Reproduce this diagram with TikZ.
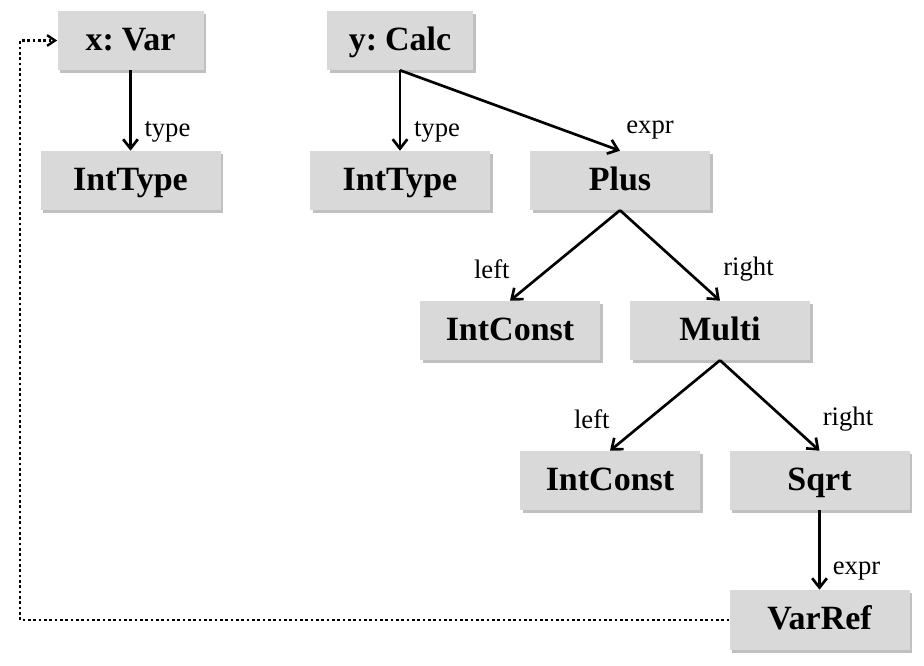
\documentclass[tikz,border=0pt]{standalone}
\usepackage{fontspec}
\setmainfont{Liberation Serif}
\newfontfamily\objfamily{Liberation Serif}[WordSpace=0.6]
\usetikzlibrary{arrows.meta,shadows}
\definecolor{boxgray}{RGB}{217,217,217}
\begin{document}
\begin{tikzpicture}[x=0.75pt,y=-0.75pt,
    obj/.style={fill=boxgray,inner sep=0pt,minimum width=135pt,minimum height=44.25pt,
        text height=19pt,text depth=4.7pt,
        font=\objfamily\fontsize{25.5}{30}\selectfont\bfseries,
        drop shadow={shadow xshift=2pt,shadow yshift=-2pt,fill=black!45,opacity=0.55}},
    rel/.style={line width=2pt,-{Straight Barb[length=7pt,width=11pt,line width=2pt]}},
    ref/.style={line width=2pt,dotted,-{Straight Barb[length=6pt,width=8pt,line width=1.8pt]}},
    lbl/.style={inner sep=1pt,font=\fontsize{20}{24}\selectfont}]
    \useasboundingbox (0,0) rectangle (924,666);
    % objects
    \node[obj,minimum width=109.5pt] (xvar) at (130.5,40.5) {x: Var};
    \node[obj] (it1) at (130.5,180.5) {IntType};
    \node[obj,minimum width=109.5pt] (ycalc) at (400,40.5) {y: Calc};
    \node[obj] (it2) at (400,180.5) {IntType};
    \node[obj] (plus) at (620,180.5) {Plus};
    \node[obj] (ic1) at (510,330.5) {IntConst};
    \node[obj] (multi) at (720,330.5) {Multi};
    \node[obj] (ic2) at (610,480.5) {IntConst};
    \node[obj] (sqrt) at (819.5,480.5) {Sqrt};
    \node[obj,minimum height=45pt] (varref) at (819.5,620) {VarRef};
    \coordinate (turn) at (20,620);
    % references
    \draw[rel] (xvar.south) -- (it1.north) node[lbl,at end,anchor=south west,xshift=8.5pt,yshift=4pt] {type};
    \draw[rel] (ycalc.south) -- (it2.north) node[lbl,at end,anchor=south west,xshift=8.5pt,yshift=4pt] {type};
    \draw[rel] (ycalc.south) -- (plus.north) node[lbl,at end,anchor=south west,xshift=2.8pt,yshift=6.5pt] {expr};
    \draw[rel] (plus.south) -- (ic1.north) node[lbl,at end,anchor=south east,xshift=1.7pt,yshift=14.8pt] {left};
    \draw[rel] (plus.south) -- (multi.north) node[lbl,at end,anchor=south west,xshift=0.5pt,yshift=12.5pt] {right};
    \draw[rel] (multi.south) -- (ic2.north) node[lbl,at end,anchor=south east,xshift=1.7pt,yshift=14.8pt] {left};
    \draw[rel] (multi.south) -- (sqrt.north) node[lbl,at end,anchor=south west,xshift=0.5pt,yshift=12.5pt] {right};
    \draw[rel] (sqrt.south) -- (varref.north) node[lbl,at end,anchor=south west,xshift=8pt,yshift=5pt] {expr};
    \draw[ref] (varref.west) -- (turn) |- (xvar.west);
\end{tikzpicture}
\end{document}
